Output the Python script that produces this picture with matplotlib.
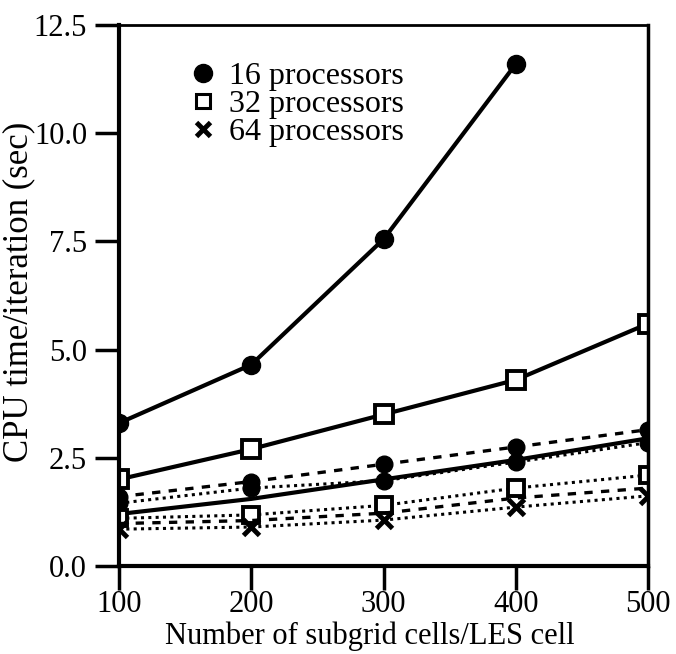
import matplotlib
matplotlib.use("Agg")
import matplotlib.pyplot as plt
from matplotlib.lines import Line2D

plt.rcParams["font.family"] = ["Liberation Serif", "DejaVu Serif"]

# subgrid cells per LES cell
cells = [100, 200, 300, 400, 500]

# total time, solid lines
p16_total = [3.3, 4.65, 7.55, 11.6]
p32_total = [2.0, 2.7, 3.5, 4.3, 5.6]
p64_total = [1.2, 1.55, 2.0, 2.45, 2.95]

# component curves (upper cluster, circles)
p16_dashed = [1.6, 1.95, 2.35, 2.75, 3.15]
p16_dotted = [1.45, 1.8, 1.97, 2.4, 2.85]

# component curves (lower cluster)
p32_dotted = [1.1, 1.18, 1.4, 1.8, 2.1]
p64_dashed = [0.98, 1.05, 1.22, 1.57, 1.8]
p64_dotted = [0.85, 0.9, 1.06, 1.36, 1.62]

legend_labels = ["16 processors", "32 processors", "64 processors"]


def main():
    fig = plt.figure(figsize=(6.76, 6.54), dpi=100)
    ax = fig.add_axes([0.176, 0.1346, 0.783, 0.8274])

    dot = (0, (1, 1.4))
    dash = (0, (2.5, 2.5))

    ax.plot(cells[:4], p16_total, color="black", lw=3, marker="o", ms=13)
    ax.plot(cells, p32_total, color="black", lw=3, marker="s", ms=13,
            mfc="white", mew=2.8)
    ax.plot(cells, p64_total, color="black", lw=3)

    ax.plot(cells, p16_dashed, color="black", lw=2.4, ls=dash, marker="o", ms=12)
    ax.plot(cells, p16_dotted, color="black", lw=2.2, ls=dot, marker="o", ms=12)

    ax.plot(cells, p32_dotted, color="black", lw=2.2, ls=dot, marker="s", ms=12,
            mfc="white", mew=2.8)
    ax.plot(cells, p64_dashed, color="black", lw=2.4, ls=dash)
    ax.plot(cells, p64_dotted, color="black", lw=2.2, ls=dot, marker="x", ms=11,
            mew=3.5)

    ax.set_xlim(100, 500)
    ax.set_ylim(0, 12.5)
    ax.set_xticks([100, 200, 300, 400, 500])
    ax.set_yticks([0, 2.5, 5.0, 7.5, 10.0, 12.5])
    ax.set_yticklabels(["0.0", "2.5", "5.0", "7.5", "10.0", "12.5"])

    ax.tick_params(direction="out", length=17, width=2.5, labelsize=22)
    ax.tick_params(axis="x", pad=0)
    ax.tick_params(axis="y", pad=6)
    ax.spines["left"].set_linewidth(3)
    ax.spines["bottom"].set_linewidth(3)
    ax.spines["right"].set_linewidth(2.5)
    ax.spines["top"].set_linewidth(2)

    ax.set_xlabel("Number of subgrid cells/LES cell", fontsize=22)
    ax.xaxis.set_label_coords(0.474, -0.144)
    ax.xaxis.label.set_va("baseline")
    ax.set_ylabel("CPU time/iteration (sec)", fontsize=25)
    ax.yaxis.set_label_coords(-0.158, 0.506)

    handles = [
        Line2D([], [], ls="none", color="black", marker="o", ms=13),
        Line2D([], [], ls="none", color="black", marker="s", ms=10,
               mfc="white", mew=2.2),
        Line2D([], [], ls="none", color="black", marker="x", ms=10, mew=3.5),
    ]
    ax.legend(handles, legend_labels, loc="upper left",
              bbox_to_anchor=(0.099, 0.955), frameon=False, fontsize=23,
              labelspacing=-0.05, handletextpad=0.2, handlelength=1.2,
              borderaxespad=0)

    fig.savefig("out.png", dpi=100)
    plt.close(fig)


if __name__ == "__main__":
    main()
